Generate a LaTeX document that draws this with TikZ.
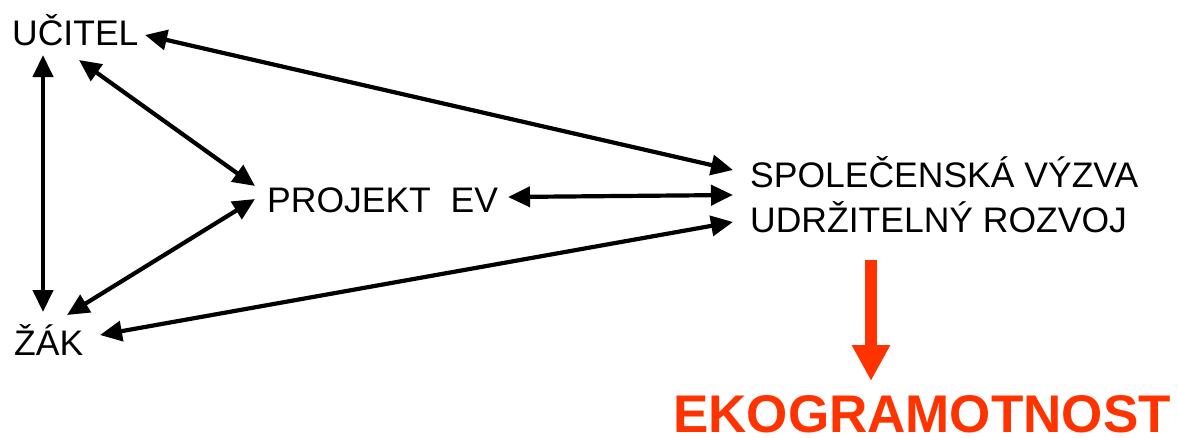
\documentclass[tikz,border=0pt]{standalone}
\usepackage{fontspec}
\setmainfont{Liberation Sans}
\usetikzlibrary{arrows.meta}
\definecolor{ekored}{RGB}{255,51,0}
\begin{document}
\begin{tikzpicture}[x=1pt,y=-1pt,
  lbl/.style={inner sep=0pt,anchor=base west,font=\fontsize{35.5}{44.5}\selectfont},
  link/.style={line width=4.2pt,{Triangle[length=22pt,width=20pt]}-{Triangle[length=22pt,width=20pt]}},
  bigarrow/.style={ekored,line width=12pt,-{Triangle[length=36pt,width=36pt]}}]
\useasboundingbox (0,0) rectangle (1178,437);
\node[lbl] (ucitel) at (12,45) {UČITEL};
\node[lbl] (zak) at (14,355) {ŽÁK};
\node[lbl] (projekt) at (267,212) {PROJEKT\ \ EV};
\node[lbl,align=left] (vyzva) at (750,232) {SPOLEČENSKÁ VÝZVA\\UDRŽITELNÝ ROZVOJ};
\node[inner sep=0pt,anchor=base west,text=ekored,font=\fontsize{53}{60}\selectfont\bfseries] (eko) at (673,432.5) {EKOGRAMOTNOST};
% arrow end points
\coordinate (u1) at (43,55);   \coordinate (z1) at (43,312);
\coordinate (u2) at (79,60);   \coordinate (p1) at (255,186);
\coordinate (z2) at (67,315);  \coordinate (p2) at (255,199);
\coordinate (u3) at (145,35);  \coordinate (v1) at (733,170);
\coordinate (p3) at (508,197); \coordinate (v2) at (733,195);
\coordinate (z3) at (100,335); \coordinate (v3) at (733,222);
\coordinate (v4) at (871,260); \coordinate (e1) at (871,381);
\draw[link] (u1) -- (z1);
\draw[link] (u2) -- (p1);
\draw[link] (z2) -- (p2);
\draw[link] (u3) -- (v1);
\draw[link] (p3) -- (v2);
\draw[link] (z3) -- (v3);
\draw[bigarrow] (v4) -- (e1);
\end{tikzpicture}
\end{document}
